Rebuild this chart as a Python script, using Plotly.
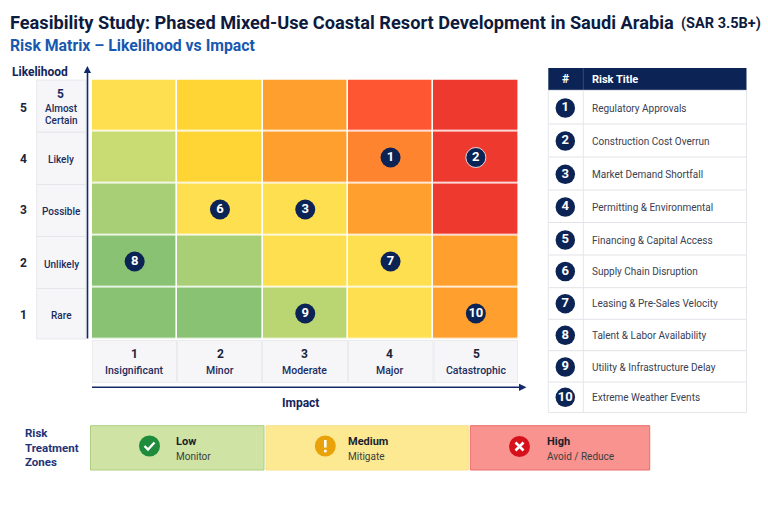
import plotly.graph_objects as go

TITLE = "Feasibility Study: Phased Mixed-Use Coastal Resort Development in Saudi Arabia"
TITLE_SUFFIX = "(SAR 3.5B+)"
SUBTITLE = "Risk Matrix – Likelihood vs Impact"

impact_levels = [1, 2, 3, 4, 5]
impact_names = ["Insignificant", "Minor", "Moderate", "Major", "Catastrophic"]
likelihood_levels = [1, 2, 3, 4, 5]
likelihood_names = ["Rare", "Unlikely", "Possible", "Likely", "5<br>Almost<br>Certain"]

# cell colour index per likelihood row (1..5), impact column (1..5)
palette = ["#8AC273", "#A9CF76", "#BAD673", "#C9DC74", "#FDDF50", "#FED535",
           "#FFA02E", "#FE8430", "#FE5532", "#EE3A2E"]
cell_level = [
    [0, 0, 2, 4, 6],
    [0, 1, 4, 4, 6],
    [1, 4, 4, 6, 9],
    [3, 5, 6, 7, 9],
    [4, 5, 6, 8, 9],
]

risk_ids = [1, 2, 3, 6, 7, 8, 9, 10]
risk_impact = [4, 5, 3, 2, 4, 1, 3, 5]
risk_likelihood = [4, 4, 3, 3, 2, 2, 1, 1]

table_ids = [1, 2, 3, 4, 5, 6, 7, 8, 9, 10]
table_titles = ["Regulatory Approvals", "Construction Cost Overrun", "Market Demand Shortfall",
                "Permitting & Environmental", "Financing & Capital Access", "Supply Chain Disruption",
                "Leasing & Pre-Sales Velocity", "Talent & Labor Availability",
                "Utility & Infrastructure Delay", "Extreme Weather Events"]

zone_names = ["Low", "Medium", "High"]
zone_actions = ["Monitor", "Mitigate", "Avoid / Reduce"]

# ---------- layout geometry (page pixels) ----------
W, H = 768, 512
MX0, MX1, MY0, MY1 = 92, 518.5, 79.5, 339.5
col_edges = [92, 177, 262, 348, 433.5, 518]
row_edges = [339, 288.5, 236.5, 184.5, 132, 80]  # likelihood 1 -> 5
table_lines = [90.3, 124, 157, 190, 222.5, 255, 287.7, 319.3, 350.7, 382, 412.5]
table_y = [108, 141, 174.3, 207, 240, 271.5, 303.7, 335.3, 367, 397.3]
NAVY = "#0B2455"
INK = "#15224A"
AX = "#12296B"
FONT = "Roboto"

fig = go.Figure()
shapes, notes = [], []

def rect(x0, y0, x1, y1, fill, line=None, lw=1, layer="below"):
    shapes.append(dict(type="rect", xref="x2", yref="y2", x0=x0, y0=y0, x1=x1, y1=y1,
                       fillcolor=fill, line=dict(color=line or fill, width=lw if line else 0), layer=layer))

def seg(x0, y0, x1, y1, color, lw=1, layer="below"):
    shapes.append(dict(type="line", xref="x2", yref="y2", x0=x0, y0=y0, x1=x1, y1=y1,
                       line=dict(color=color, width=lw), layer=layer))

def path(d, fill=None, line=None, lw=0):
    shapes.append(dict(type="path", xref="x2", yref="y2", path=d, fillcolor=fill or "rgba(0,0,0,0)",
                       line=dict(color=line or "rgba(0,0,0,0)", width=lw), layer="above"))

def circle(cx, cy, r, fill):
    shapes.append(dict(type="circle", xref="x2", yref="y2", x0=cx - r, x1=cx + r, y0=cy - r, y1=cy + r,
                       fillcolor=fill, line=dict(width=0), layer="above"))

def text(x, y, s, size=10, color=INK, bold=False, anchor="left", family=FONT, weight=None):
    notes.append(dict(xref="x2", yref="y2", x=x - 2 if anchor == "left" else x, y=y,
                      text=f"<b>{s}</b>" if bold else s, showarrow=False,
                      xanchor=anchor, yanchor="middle", align=anchor,
                      font=dict(size=size, color=color, family=family, **({"weight": weight} if weight else {}))))

# ---------- heading ----------
text(10, 22, TITLE, 18.2, "#0D1B3E", True)
text(681, 23, TITLE_SUFFIX, 14.5, "#0D1B3E", True)
text(10, 45, SUBTITLE, 15.8, "#1758B0", True)

# ---------- matrix side panels ----------
side_y = [315, 264, 211, 159.5, 108]
for i, lvl in enumerate(likelihood_levels):
    rect(36.7, row_edges[i + 1], 86, row_edges[i], "#F6F6F8", "#E3E4E8", 0.8)
    text(23, [314.5, 263, 210, 158.5, 108][i], str(lvl), 12, "#1B2438", True, "center")
    name = likelihood_names[i]
    if "<br>" in name:
        parts = name.split("<br>")
        text(60.5, 94, parts[0], 12, "#1B2C5E", True, "center")
        text(61, 108.5, parts[1], 10, "#1B2C5E", False, "center", weight=500)
        text(61, 120.5, parts[2], 10, "#1B2C5E", False, "center", weight=500)
    else:
        text(61, side_y[i], name, 10, "#1B2C5E", False, "center", weight=500)
text(40, 72, "Likelihood", 12, "#14245A", True, "center")

for i, lvl in enumerate(impact_levels):
    rect(col_edges[i] + 0.5, 340.5, col_edges[i + 1] - 0.5, 382.5, "#F6F6F8", "#E6E7EA", 0.8)
    cx = [134, 220, 304, 389, 476][i]
    text(cx, 353.5, str(lvl), 12, "#1B2438", True, "center")
    text(cx, 370, impact_names[i], 10.5, "#1B2C5E", False, "center", weight=500)
text(300, 402.5, "Impact", 12, "#14245A", True, "center")

# axis arrows
seg(87.5, 338.5, 87.5, 72, AX, 1.6)
path("M 87.4 66 L 91 73 L 83.8 73 Z", AX)
seg(92, 387.3, 520, 387.3, AX, 1.6)
path("M 526.5 387.3 L 519 383.7 L 519 391 Z", AX)

# ---------- table ----------
TX0, TX1, TDIV = 548.3, 746.5, 583.3
rect(TX0, 68, TX1, 90.3, NAVY, layer="below")
seg(TDIV, 68, TDIV, 90.3, "#3A5486", 0.8)
text(565.5, 79, "#", 12, "#FFFFFF", True, "center")
text(592, 79, "Risk Title", 11, "#FFFFFF", True)
rect(TX0, 90.3, TX1, table_lines[-1], "#FFFFFF", "#E2E3E8", 0.9)
seg(TDIV, 90.3, TDIV, table_lines[-1], "#E2E3E8", 0.9)
for yl in table_lines[1:-1]:
    seg(TX0, yl, TX1, yl, "#E2E3E8", 1)
for y, name in zip(table_y, table_titles):
    text(591.5, y, name, 10, "#3A4152")

# ---------- treatment zones ----------
text(25, 433, "Risk", 11.5, "#1F3478", True)
text(25, 447.5, "Treatment", 11.5, "#1F3478", True)
text(25, 461.5, "Zones", 11.5, "#1F3478", True)
zone_box = [(90.5, 264, "#CFE3A4", "#AECE80"), (266, 468.3, "#FDE992", "#F9E08C"), (470.3, 649.7, "#F8938F", "#E96C68")]
zone_tx = [175.5, 347.5, 547]
zone_ic = [(149.5, 446, "#1E8C3C"), (325.3, 446, "#E9A209"), (519.5, 446.5, "#D7111C")]
for i in range(3):
    x0, x1, f, l = zone_box[i]
    rect(x0, 425.7, x1, 470, f, l, 1)
    cx, cy, c = zone_ic[i]
    circle(cx, cy, 10.5, c)
    text(zone_tx[i], 441, zone_names[i], 11, "#1A1F2B", True)
    text(zone_tx[i], 456, zone_actions[i], 10, "#3A4040")
cx, cy, _ = zone_ic[0]
path(f"M {cx-5} {cy} L {cx-1.5} {cy+3.5} L {cx+5} {cy-3.5}", None, "#FFFFFF", 2.4)
cx, cy, _ = zone_ic[1]
path(f"M {cx} {cy-6} L {cx} {cy+1.5}", None, "#FFFFFF", 2.6)
circle(cx, cy + 5, 1.5, "#FFFFFF")
cx, cy, _ = zone_ic[2]
path(f"M {cx-4} {cy-4} L {cx+4} {cy+4} M {cx-4} {cy+4} L {cx+4} {cy-4}", None, "#FFFFFF", 2.6)

# ---------- traces ----------
n = len(palette)
colorscale = []
for i, c in enumerate(palette):
    colorscale += [[i / n, c], [(i + 1) / n, c]]

fig.add_trace(go.Heatmap(
    x=impact_levels, y=likelihood_levels, z=cell_level, zmin=-0.5, zmax=n - 0.5,
    colorscale=colorscale, showscale=False, xgap=1.6, ygap=1.6, hoverinfo="skip",
    xaxis="x", yaxis="y"))

fig.add_trace(go.Scatter(
    x=risk_impact, y=risk_likelihood, mode="markers+text", text=[f"<b>{r}</b>" for r in risk_ids],
    textposition="middle center", textfont=dict(size=13, color="#FFFFFF", family=FONT),
    marker=dict(size=20, color=NAVY, line=dict(color="#FFFFFF", width=[0, 0.8, 0, 0, 0, 0, 0, 0])),
    hoverinfo="skip", xaxis="x", yaxis="y"))

fig.add_trace(go.Scatter(
    x=[565.3] * len(table_ids), y=table_y, mode="markers+text", text=[f"<b>{r}</b>" for r in table_ids],
    textposition="middle center", textfont=dict(size=13, color="#FFFFFF", family=FONT),
    marker=dict(size=19.5, color=NAVY), hoverinfo="skip", xaxis="x2", yaxis="y2"))

fig.update_layout(
    width=W, height=H, autosize=False, margin=dict(l=0, r=0, t=0, b=0),
    paper_bgcolor="#FFFFFF", plot_bgcolor="rgba(0,0,0,0)", showlegend=False, hovermode=False,
    font=dict(family=FONT),
    shapes=shapes, annotations=notes,
    xaxis=dict(domain=[MX0 / W, MX1 / W], range=[0.5, 5.5], visible=False, fixedrange=True),
    yaxis=dict(domain=[1 - MY1 / H, 1 - MY0 / H], range=[0.5, 5.5], visible=False, fixedrange=True),
    xaxis2=dict(domain=[0, 1], range=[0, W], visible=False, fixedrange=True, anchor="y2"),
    yaxis2=dict(domain=[0, 1], range=[H, 0], visible=False, fixedrange=True, anchor="x2"),
)

fig.write_html("out.html", config=dict(displayModeBar=False),
               post_script="document.body.style.margin='0';document.body.style.overflow='hidden';")
